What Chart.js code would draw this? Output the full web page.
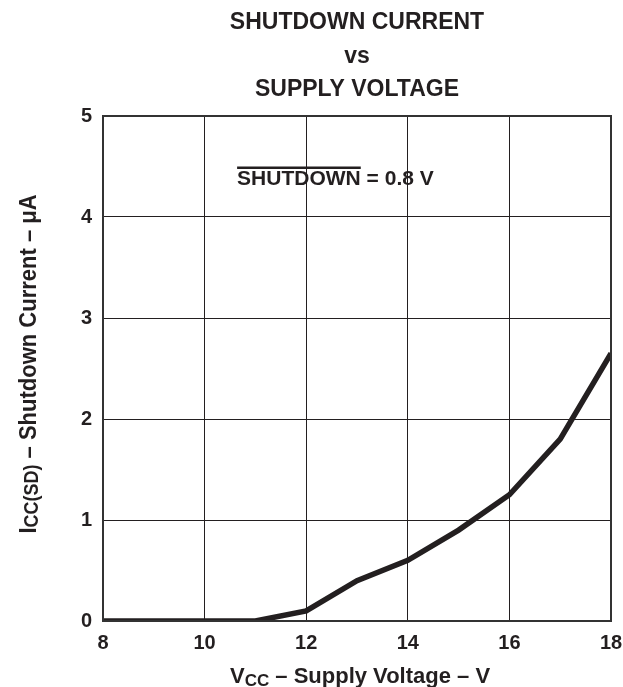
<!DOCTYPE html>
<html>
<head>
<meta charset="utf-8">
<script src="https://cdn.jsdelivr.net/npm/chart.js@4/dist/chart.umd.min.js"></script>
<style>
  html, body { margin: 0; padding: 0; background: #fff; }
  #wrap { width: 623px; height: 687px; }
</style>
</head>
<body>
<div id="wrap"><canvas id="myChart" width="623" height="687"></canvas></div>
<script>
// supply voltage (V) and shutdown current (uA)
var voltage = [8, 11, 12, 13, 14, 15, 16, 17, 18];
var current = [0, 0, 0.1, 0.4, 0.6, 0.9, 1.25, 1.8, 2.65];
var xTicks = [8, 10, 12, 14, 16, 18];
var yTicks = [0, 1, 2, 3, 4, 5];
var titleLines = ['SHUTDOWN CURRENT', 'vs', 'SUPPLY VOLTAGE'];
var noteAt = [10.64, 4.37]; // where the SHUTDOWN = 0.8 V label sits, in data units

var FONT = '"Liberation Sans", Arial, Helvetica, sans-serif';
var INK = '#231f20';

// draws sub-scripted text pieces: [[text, isSub], ...] centred on x
function subText(ctx, parts, size, subSize, drop) {
    var w = 0;
    parts.forEach(function (p) {
        ctx.font = 'bold ' + (p[1] ? subSize : size) + 'px ' + FONT;
        w += ctx.measureText(p[0]).width;
    });
    var x = -w / 2;
    parts.forEach(function (p) {
        ctx.font = 'bold ' + (p[1] ? subSize : size) + 'px ' + FONT;
        ctx.fillText(p[0], x, p[1] ? drop : 0);
        x += ctx.measureText(p[0]).width;
    });
}

var extras = {
    id: 'extras',
    afterDraw: function (chart) {
        var ctx = chart.ctx, a = chart.chartArea;
        var xs = chart.scales.x, ys = chart.scales.y;
        ctx.save();
        // frame
        ctx.strokeStyle = '#333';
        ctx.lineWidth = 2;
        ctx.strokeRect(a.left, a.top, a.right - a.left, a.bottom - a.top);

        // note with overline
        ctx.fillStyle = INK;
        ctx.textBaseline = 'middle';
        ctx.textAlign = 'left';
        ctx.font = 'bold 21px ' + FONT;
        var nx = xs.getPixelForValue(noteAt[0]), ny = ys.getPixelForValue(noteAt[1]);
        ctx.fillText('SHUTDOWN = 0.8 V', nx, ny);
        var ow = ctx.measureText('SHUTDOWN').width;
        ctx.strokeStyle = INK;
        ctx.lineWidth = 2.5;
        ctx.beginPath();
        ctx.moveTo(nx, ny - 12);
        ctx.lineTo(nx + ow, ny - 12);
        ctx.stroke();

        // axis titles with subscripts
        ctx.textAlign = 'left';
        ctx.textBaseline = 'alphabetic';
        ctx.save();
        ctx.translate((a.left + a.right) / 2 + 3, 683);
        subText(ctx, [['V', false], ['CC', true], [' \u2013 Supply Voltage \u2013 V', false]], 22, 17, 3);
        ctx.restore();

        ctx.save();
        ctx.translate(36, 364);
        ctx.rotate(-Math.PI / 2);
        ctx.scale(1, 1.12);
        subText(ctx, [['I', false], ['CC(SD)', true], [' \u2013 Shutdown Current \u2013 \u03bcA', false]], 22, 18, 2);
        ctx.restore();

        ctx.restore();
    }
};

var ctx = document.getElementById('myChart').getContext('2d');
var myChart = new Chart(ctx, {
    type: 'line',
    data: {
        datasets: [{
            data: voltage.map(function (v, i) { return { x: v, y: current[i] }; }),
            borderColor: INK,
            borderWidth: 5.5,
            pointRadius: 0,
            tension: 0,
            fill: false
        }]
    },
    options: {
        responsive: false,
        animation: false,
        layout: { padding: { left: 0, right: 12, top: 0, bottom: 0 } },
        plugins: {
            legend: { display: false },
            tooltip: { enabled: false },
            title: {
                display: true,
                fullSize: false,
                text: titleLines,
                color: INK,
                font: { family: FONT, size: 23, weight: 'bold', lineHeight: 33.5 / 23 },
                padding: { top: 6, bottom: 9.5 }
            }
        },
        scales: {
            x: {
                type: 'linear',
                min: xTicks[0],
                max: xTicks[xTicks.length - 1],
                afterBuildTicks: function (s) { s.ticks = xTicks.map(function (v) { return { value: v }; }); },
                afterFit: function (s) { s.height = 66; s.paddingLeft = 0; s.paddingRight = 0; },
                grid: { color: INK, lineWidth: 1, drawTicks: false },
                border: { color: '#333', width: 2 },
                ticks: { color: INK, padding: 10, font: { family: FONT, size: 20, weight: 'bold' } }
            },
            y: {
                type: 'linear',
                min: yTicks[0],
                max: yTicks[yTicks.length - 1],
                afterBuildTicks: function (s) { s.ticks = yTicks.map(function (v) { return { value: v }; }); },
                afterFit: function (s) { s.width = 103; },
                grid: { color: INK, lineWidth: 1, drawTicks: false },
                border: { color: '#333', width: 2 },
                ticks: { color: INK, padding: 11, font: { family: FONT, size: 20, weight: 'bold' } }
            }
        }
    },
    plugins: [extras]
});
</script>
</body>
</html>
